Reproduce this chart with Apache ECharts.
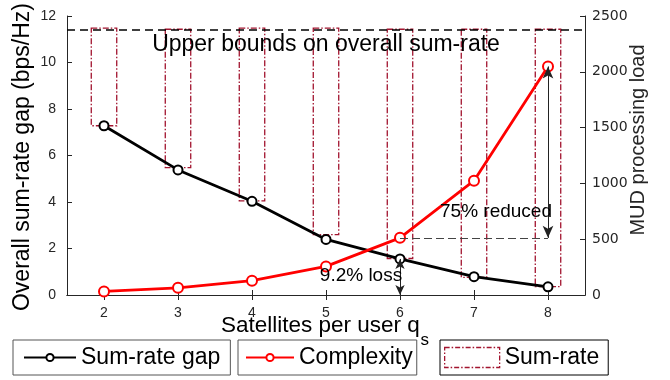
<!DOCTYPE html>
<html>
<head>
<meta charset="utf-8">
<script src="https://cdn.jsdelivr.net/npm/echarts@6/dist/echarts.min.js"></script>
<style>
html,body{margin:0;padding:0;background:#fff;}
#chart{width:670px;height:380px;}
</style>
</head>
<body>
<div id="chart"></div>
<script>
// ---- data ----
const categories = ['2', '3', '4', '5', '6', '7', '8'];
const sumRateGap = [7.28, 5.38, 4.03, 2.39, 1.55, 0.79, 0.35];
const complexity = [32, 64, 128, 256, 512, 1024, 2048];
const sumRateBottom = [7.28, 5.48, 4.05, 2.6, 1.57, 0.76, 0.36];
const sumRateTop = [11.48, 11.43, 11.48, 11.48, 11.43, 11.43, 11.43];
const upperBound = 11.43;
const leftTicks = {min: 0, max: 12, interval: 2};
const rightTicks = {min: 0, max: 2500, interval: 500};

const FONT = '"Liberation Sans", Arial, Helvetica, sans-serif';
const RATE_COLOR = '#A2142F';
const AXIS_COLOR = '#262626';

const rectData = categories.map((c, i) => [i, sumRateBottom[i], sumRateTop[i]]);

const chart = echarts.init(document.getElementById('chart'), null, {renderer: 'canvas'});

const legendBase = {
  orient: 'horizontal',
  top: 340,
  itemGap: 0,
  borderWidth: 1,
  textStyle: {fontFamily: FONT, fontSize: 23, color: '#000'},
  selectedMode: false
};

const option = {
  animation: false,
  backgroundColor: '#fff',
  grid: {left: 67, right: 85, top: 16, bottom: 85, containLabel: false},
  xAxis: [{
    type: 'category',
    data: categories,
    boundaryGap: true,
    position: 'bottom',
    axisLine: {show: true, lineStyle: {color: AXIS_COLOR, width: 1}},
    axisTick: {show: true, inside: true, alignWithLabel: true, length: 5, interval: 0, lineStyle: {color: AXIS_COLOR}},
    axisLabel: {interval: 0, margin: 11, fontFamily: FONT, fontSize: 14, color: AXIS_COLOR},
    splitLine: {show: false}
  }, {
    type: 'category',
    data: categories,
    boundaryGap: true,
    position: 'top',
    axisLine: {show: true, lineStyle: {color: AXIS_COLOR, width: 1}},
    axisTick: {show: true, inside: true, alignWithLabel: true, length: 5, interval: 0, lineStyle: {color: AXIS_COLOR}},
    axisLabel: {show: false},
    splitLine: {show: false}
  }],
  yAxis: [{
    type: 'value',
    min: leftTicks.min, max: leftTicks.max, interval: leftTicks.interval,
    position: 'left',
    axisLine: {show: true, lineStyle: {color: AXIS_COLOR, width: 1}},
    axisTick: {show: true, inside: true, length: 5, lineStyle: {color: AXIS_COLOR}},
    axisLabel: {margin: 11, fontFamily: FONT, fontSize: 14, color: AXIS_COLOR},
    splitLine: {show: false}
  }, {
    type: 'value',
    min: rightTicks.min, max: rightTicks.max, interval: rightTicks.interval,
    position: 'right',
    axisLine: {show: true, lineStyle: {color: AXIS_COLOR, width: 1}},
    axisTick: {show: true, inside: true, length: 5, lineStyle: {color: AXIS_COLOR}},
    axisLabel: {margin: 7, fontFamily: '"DejaVu Sans", sans-serif', fontSize: 14, color: AXIS_COLOR,
      formatter: function (v) { return String(v); }},
    splitLine: {show: false}
  }],
  legend: [
    Object.assign({}, legendBase, {
      left: 13, data: ['Sum-rate gap'], itemWidth: 52, itemHeight: 9,
      padding: [6, 10, 6, 10], borderColor: '#555'
    }),
    Object.assign({}, legendBase, {
      left: 238, data: ['Complexity'], itemWidth: 48, itemHeight: 9,
      padding: [6, 4, 6, 7], borderColor: '#555'
    }),
    Object.assign({}, legendBase, {
      left: 440, data: [{name: 'Sum-rate', icon: 'rect'}], itemWidth: 55, itemHeight: 20,
      padding: [6, 9, 6, 4], borderColor: '#000',
      itemStyle: {color: 'rgba(0,0,0,0)', borderColor: RATE_COLOR, borderWidth: 1.3, borderType: [5, 2, 1.5, 2]}
    })
  ],
  series: [{
    name: 'Sum-rate',
    type: 'custom',
    xAxisIndex: 0,
    yAxisIndex: 0,
    z: 1,
    data: rectData,
    encode: {x: 0, y: [1, 2]},
    itemStyle: {color: 'rgba(0,0,0,0)', borderColor: RATE_COLOR, borderWidth: 1.3},
    renderItem: function (params, api) {
      const idx = api.value(0);
      const pTop = api.coord([idx, api.value(2)]);
      const pBot = api.coord([idx, api.value(1)]);
      const w = api.size([1, 0])[0] * 0.344;
      return {
        type: 'rect',
        shape: {x: pTop[0] - w / 2, y: pTop[1], width: w, height: pBot[1] - pTop[1]},
        style: {fill: 'none', stroke: RATE_COLOR, lineWidth: 1.3, lineDash: [6, 2, 1.5, 2]}
      };
    },
    markLine: {
      silent: true,
      symbol: 'none',
      label: {show: false},
      lineStyle: {color: '#000', type: [8, 5], width: 1.5},
      data: [{yAxis: upperBound}]
    }
  }, {
    name: 'Sum-rate gap',
    type: 'line',
    xAxisIndex: 0,
    yAxisIndex: 0,
    z: 3,
    data: sumRateGap,
    symbol: 'emptyCircle',
    symbolSize: 9,
    lineStyle: {color: '#000', width: 2.8},
    itemStyle: {color: '#000', borderColor: '#000', borderWidth: 2},
    markLine: {
      silent: true,
      symbol: 'none',
      label: {show: false},
      lineStyle: {color: '#222', type: 'solid', width: 1},
      data: [[
        {coord: ['6', sumRateGap[4]], symbol: 'arrow', symbolSize: [7, 10]},
        {coord: ['6', 0], symbol: 'arrow', symbolSize: [7, 10]}
      ]]
    }
  }, {
    name: 'Complexity',
    type: 'line',
    xAxisIndex: 0,
    yAxisIndex: 1,
    z: 4,
    data: complexity,
    symbol: 'emptyCircle',
    symbolSize: 10,
    lineStyle: {color: '#ff0000', width: 2.8},
    itemStyle: {color: '#ff0000', borderColor: '#ff0000', borderWidth: 2.2},
    markLine: {
      silent: true,
      symbol: 'none',
      label: {show: false},
      data: [
        [
          {coord: ['8', complexity[6]], symbol: 'arrow', symbolSize: [8, 12], lineStyle: {color: '#222', type: 'solid', width: 1}},
          {coord: ['8', complexity[4]], symbol: 'arrow', symbolSize: [8, 12]}
        ],
        [
          {coord: ['6', complexity[4]], symbol: 'none', lineStyle: {color: '#444', type: [8, 4], width: 1}},
          {coord: ['8', complexity[4]], symbol: 'none'}
        ]
      ]
    }
  }],
  graphic: [
    {type: 'text', x: 326, y: 45, z: 100, style: {text: 'Upper bounds on overall sum-rate', font: '23px ' + FONT, fill: '#000', align: 'center', verticalAlign: 'middle'}},
    {type: 'text', x: 496, y: 211.5, z: 100, style: {text: '75% reduced', font: '19px ' + FONT, fill: '#000', align: 'center', verticalAlign: 'middle'}},
    {type: 'text', x: 361, y: 276, z: 100, style: {text: '9.2% loss', font: '19px ' + FONT, fill: '#000', align: 'center', verticalAlign: 'middle'}},
    {type: 'text', x: 23, y: 157, rotation: Math.PI / 2, z: 100, style: {text: 'Overall sum-rate gap (bps/Hz)', font: '23px ' + FONT, fill: '#000', align: 'center', verticalAlign: 'middle'}},
    {type: 'text', x: 638, y: 140, rotation: Math.PI / 2, z: 100, style: {text: 'MUD processing load', font: '20px ' + FONT, fill: '#262626', align: 'center', verticalAlign: 'middle'}},
    {type: 'text', x: 221, y: 326, z: 100, style: {text: 'Satellites per user q', font: '22.5px ' + FONT, fill: '#000', align: 'left', verticalAlign: 'middle'}},
    {type: 'text', x: 420.5, y: 340, z: 100, style: {text: 's', font: '17px ' + FONT, fill: '#000', align: 'left', verticalAlign: 'middle'}}
  ]
};

chart.setOption(option);
</script>
</body>
</html>
